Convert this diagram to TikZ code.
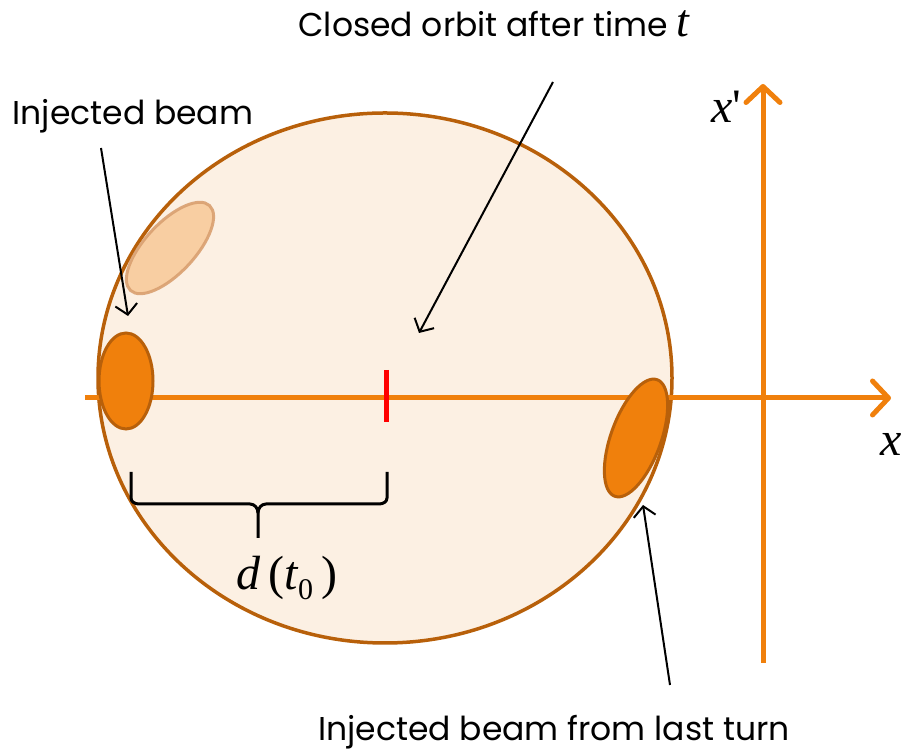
\documentclass[tikz,border=0pt]{standalone}
\usepackage{fontspec}
\setmainfont{Poppins}
\newfontfamily\tnr{Liberation Serif}
\usetikzlibrary{arrows.meta}
\definecolor{beamor}{HTML}{F0800C}
\definecolor{rimbr}{HTML}{B8600A}
\definecolor{paleor}{HTML}{FCF0E3}
\definecolor{fadeor}{HTML}{F8CB9C}
\definecolor{fadebr}{HTML}{D9A070}
\tikzset{
  axisline/.style={draw=beamor, line width=5pt, -{Straight Barb[length=16pt,width=34pt,line width=5pt,round]}},
  pointer/.style={draw=black, line width=2pt, -{Straight Barb[length=10pt,width=22pt,line width=2pt]}},
  beam/.style={fill=beamor, draw=rimbr, line width=3pt},
  lbl/.style={font=\fontsize{33}{38}\selectfont, inner sep=0pt},
  mth/.style={font=\fontsize{48}{52}\selectfont\tnr\itshape, inner sep=0pt},
}
\begin{document}
\begin{tikzpicture}[x=1pt,y=1pt]
\useasboundingbox (0,0) rectangle (905,751);
% big phase ellipse
\draw[fill=paleor, draw=rimbr, line width=3.5pt] (385,373) ellipse [x radius=287, y radius=265];
% faded beam
\draw[fill=fadeor, draw=fadebr, line width=3pt, opacity=0.9] (170,503) ellipse [x radius=58, y radius=25, rotate=47];
% axes
\coordinate (hx0) at (85,353);
\coordinate (hx1) at (891,353);
\coordinate (vx0) at (763,88);
\coordinate (vx1) at (763,667);
\draw[axisline] (hx0) -- (hx1);
\draw[axisline] (vx0) -- (vx1);
% beams
\draw[beam] (126,370) ellipse [x radius=27, y radius=48];
\draw[beam] (636,313) ellipse [x radius=62, y radius=25, rotate=70];
% closed orbit mark
\coordinate (r0) at (386,381);
\coordinate (r1) at (386,329);
\draw[red, line width=5pt] (r0) -- (r1);
% brace
\coordinate (bl) at (131,279);
\coordinate (br) at (387,279);
\draw[line width=3pt, line join=round] (bl) -- (131,253) to[out=-90,in=180] (139,247) -- (250,247) to[out=0,in=90] (258,238) -- (258,213);
\draw[line width=3pt, line join=round] (br) -- (387,253) to[out=-90,in=0] (379,247) -- (266,247) to[out=180,in=90] (258,238);
% labels
\node[lbl, anchor=base] (title) at (494,714) {Closed orbit after time \fontsize{46}{50}\selectfont\tnr\itshape t};
\node[lbl, anchor=base] (inj) at (133,626) {Injected beam};
\node[lbl, anchor=base] (last) at (554,10) {Injected beam from last turn};
\node[mth, anchor=base] (xp) at (726,628) {x\upshape'};
\node[mth, anchor=base] (xl) at (891,295) {x};
\node[mth, anchor=base] (dt) at (287,161) {d\upshape\,(\itshape t\raisebox{-10pt}{\fontsize{30}{32}\selectfont\upshape 0}\upshape\,)};
% pointers
\coordinate (a1s) at (101,603);
\coordinate (a1e) at (128,435);
\coordinate (a2s) at (553,669);
\coordinate (a2e) at (419,418);
\coordinate (a3s) at (670,66);
\coordinate (a3e) at (643,246);
\draw[pointer] (a1s) -- (a1e);
\draw[pointer] (a2s) -- (a2e);
\draw[pointer] (a3s) -- (a3e);
\end{tikzpicture}
\end{document}
